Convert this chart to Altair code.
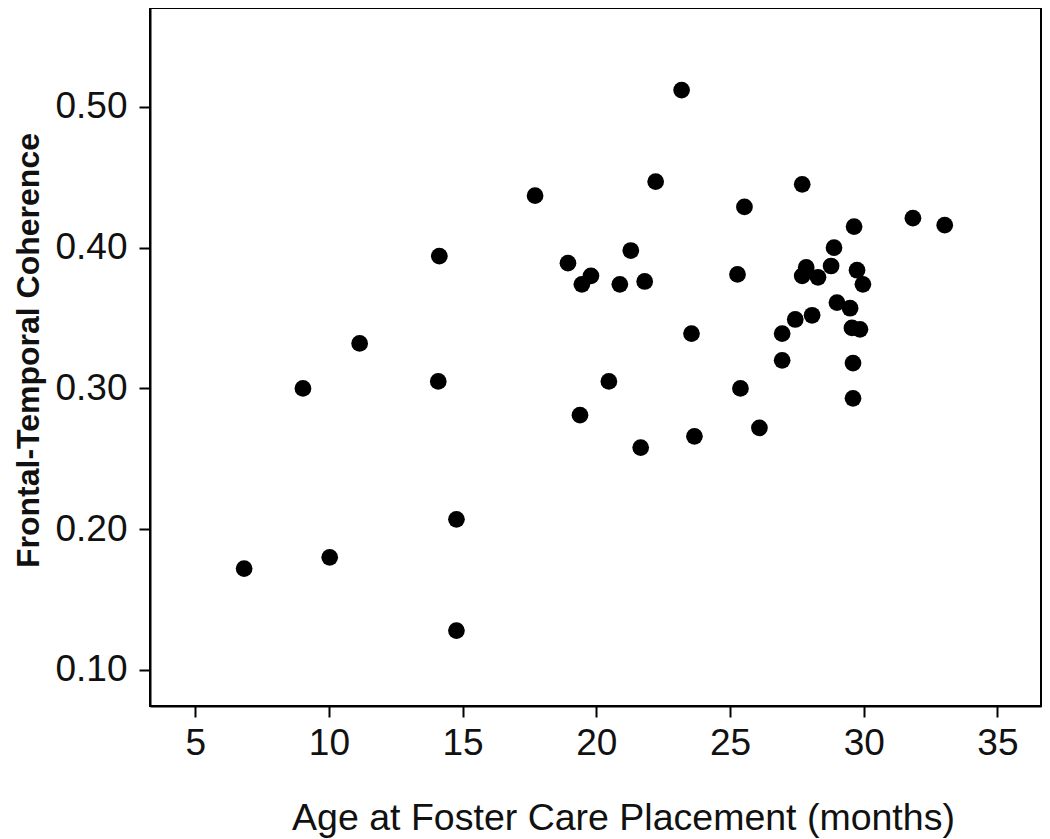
import altair as alt
import pandas as pd

# Age at foster care placement (months)
age = [6.83, 10.03, 9.03, 11.15, 14.09, 14.13, 14.77, 14.77, 17.71, 18.94,
       19.80, 19.46, 20.88, 21.81, 21.29, 22.22, 23.19, 20.47, 19.39, 21.66,
       23.67, 23.56, 25.28, 25.54, 25.39, 26.10, 26.95, 26.95, 27.44, 27.70,
       27.70, 27.85, 28.07, 28.29, 28.78, 28.89, 29.00, 29.49, 29.64, 29.56,
       29.86, 29.60, 29.60, 29.75, 29.97, 31.84, 33.03]
# Frontal-temporal coherence
coherence = [0.172, 0.180, 0.300, 0.332, 0.305, 0.394, 0.207, 0.128, 0.437, 0.389,
             0.380, 0.374, 0.374, 0.376, 0.398, 0.447, 0.512, 0.305, 0.281, 0.258,
             0.266, 0.339, 0.381, 0.429, 0.300, 0.272, 0.339, 0.320, 0.349, 0.445,
             0.380, 0.386, 0.352, 0.379, 0.387, 0.400, 0.361, 0.357, 0.415, 0.343,
             0.342, 0.318, 0.293, 0.384, 0.374, 0.421, 0.416]

x_ticks = [5, 10, 15, 20, 25, 30, 35]
y_ticks = [0.1, 0.2, 0.3, 0.4, 0.5]

df = pd.DataFrame({"age": age, "coh": coherence})

FONT = "Liberation Sans"
W, H = 891, 698

chart = alt.Chart(df).mark_circle(
    color="black", size=280, opacity=1
).encode(
    x=alt.X("age:Q",
            scale=alt.Scale(domain=[3.31, 36.63], nice=False, zero=False),
            axis=alt.Axis(values=x_ticks, title="Age at Foster Care Placement (months)",
                          labelPadding=8, titleX=473, titleY=123,
                          titleBaseline="alphabetic", titleAlign="center",
                          titleFontSize=37.5, titleFontWeight="normal")),
    y=alt.Y("coh:Q",
            scale=alt.Scale(domain=[0.0744, 0.5703], nice=False, zero=False),
            axis=alt.Axis(values=y_ticks, format=".2f", title="Frontal-Temporal Coherence",
                          labelPadding=12, titleX=-112, titleY=342, titleAngle=270,
                          titleBaseline="alphabetic", titleAlign="center",
                          titleFontSize=32, titleFontWeight="bold")),
).properties(
    width=W, height=H,
    autosize=alt.AutoSizeParams(type="none"),
    padding={"left": 142, "top": 0, "right": 1, "bottom": 133},
).configure_view(
    stroke="black", strokeWidth=2
).configure_axis(
    grid=False,
    labelFont=FONT, titleFont=FONT,
    labelFontSize=37, labelColor="#111", titleColor="#111",
    tickColor="black", tickWidth=2, tickSize=11,
    domainColor="black", domainWidth=2,
)

chart.save("out.html", embed_options={"renderer": "svg", "actions": False})
